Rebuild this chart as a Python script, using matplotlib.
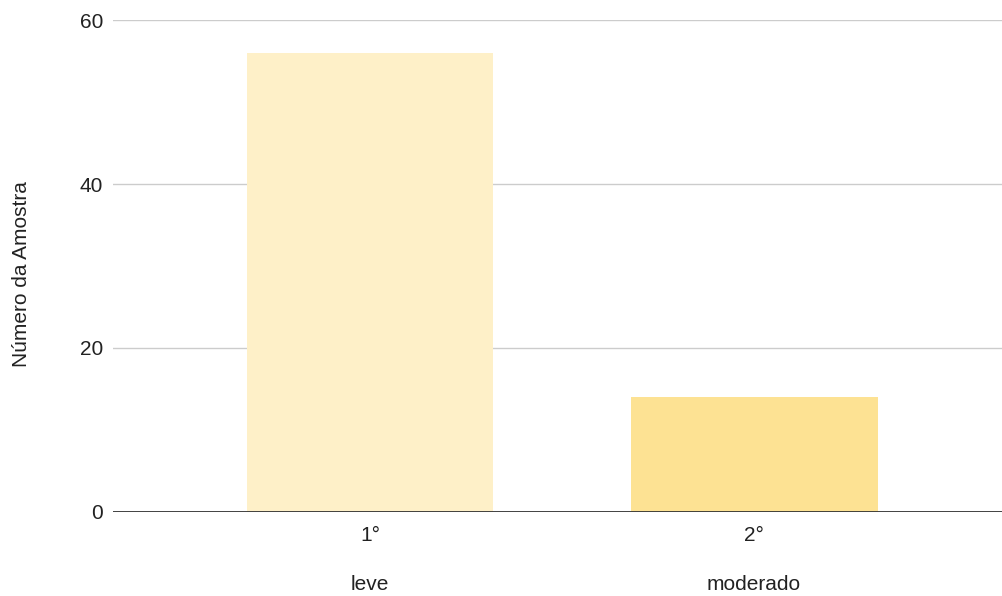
import matplotlib
matplotlib.use("Agg")
import matplotlib.pyplot as plt
import matplotlib.transforms as mtransforms

categories = ["1°", "2°"]
sublabels = ["leve", "moderado"]
values = [56, 14]
colors = ["#FEF0C8", "#FDE293"]
yticks = [0, 20, 40, 60]

plt.rcParams['font.family'] = ['Liberation Sans', 'DejaVu Sans']

fig = plt.figure(figsize=(10.03, 5.96), dpi=100)
ax = fig.add_axes([0.1127, 0.141, 0.8873, 0.8254])

x = list(range(len(categories)))
ax.bar(x, values, width=0.643, color=colors, zorder=2)

ax.set_ylim(0, 60)
ax.set_xlim(-0.669, 1.648)
ax.set_yticks(yticks)
ax.set_yticklabels([str(t) for t in yticks], fontsize=15, color="#222222")
ax.set_xticks(x)
ax.set_xticklabels(categories, fontsize=15, color="#222222")
ax.tick_params(axis='y', length=0, pad=7)
ax.tick_params(axis='x', length=0, pad=10)

for t in yticks[1:]:
    ax.axhline(t, color="#CCCCCC", linewidth=1, zorder=1)
ax.axhline(0, color="#333333", linewidth=1.3, zorder=3)

for s in ax.spines.values():
    s.set_visible(False)

trans = mtransforms.blended_transform_factory(ax.transData, ax.transAxes)
for xi, lab in zip(x, sublabels):
    ax.text(xi, -0.148, lab, transform=trans, ha='center', va='center',
            fontsize=15, color="#222222")

fig.text(0.0215, 0.54, "Número da Amostra", rotation=90, ha='center', va='center',
         fontsize=15, color="#222222")

fig.savefig("out.png", dpi=100)
